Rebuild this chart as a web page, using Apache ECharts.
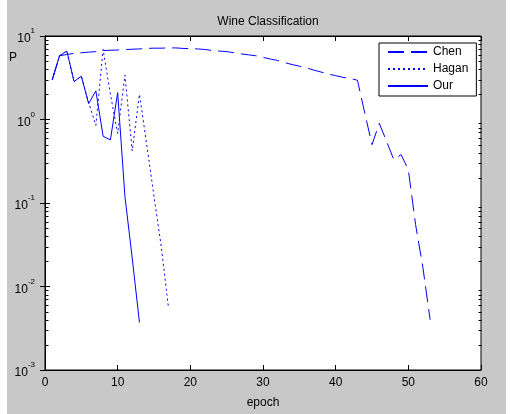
<!DOCTYPE html>
<html>
<head>
<meta charset="utf-8">
<script src="https://cdn.jsdelivr.net/npm/echarts@6/dist/echarts.min.js"></script>
<style>
html,body{margin:0;padding:0;background:#ffffff;}
#bg{position:absolute;left:7px;top:0;width:499px;height:414px;background:#c8c8c8;}
#chart{position:absolute;left:0;top:0;width:514px;height:414px;}
</style>
</head>
<body>
<div id="bg"></div>
<div id="chart"></div>
<script>
// ---- data ----
const chartTitle = 'Wine Classification';
const xLabel = 'epoch';
const yLabel = 'P';
const seriesNames = ['Chen', 'Hagan', 'Our'];

const chenEpochs = [1,2,3,4,5,6,7,8,9,10,11,12,13,14,15,16,17,18,19,20,21,22,23,24,25,26,27,28,29,30,31,32,33,34,35,36,37,38,39,40,41,42,43,44,45,46,47,48,49,50,51,52,53];
const chenValues = [3.0,5.8,6.0,6.2,6.3,6.4,6.5,6.7,6.75,6.8,6.85,6.95,7.0,7.1,7.15,7.15,7.2,7.2,7.1,7.05,7.0,6.9,6.7,6.6,6.5,6.3,6.1,5.95,5.8,5.55,5.3,5.1,4.8,4.55,4.35,4.15,3.9,3.7,3.5,3.35,3.2,3.1,2.95,1.2,0.5,0.9,0.55,0.33,0.38,0.25,0.055,0.017,0.004];

const haganEpochs = [1,2,3,4,5,6,7,8,9,10,11,12,13,14,15,16,17];
const haganValues = [3.0,5.8,6.6,2.85,3.3,1.6,0.85,6.9,2.0,0.68,3.4,0.42,2.0,0.5,0.12,0.03,0.0055];

const ourEpochs = [1,2,3,4,5,6,7,8,9,10,11,12,13];
const ourValues = [3.0,5.8,6.6,2.85,3.3,1.55,2.2,0.63,0.57,2.1,0.12,0.022,0.0037];

const xTicks = [0,10,20,30,40,50,60];
const yMin = 0.001, yMax = 10;
const minorTickValues = [
  0.002,0.003,0.004,0.005,0.006,0.007,0.008,0.009,
  0.02,0.03,0.04,0.05,0.06,0.07,0.08,0.09,
  0.2,0.3,0.4,0.5,0.6,0.7,0.8,0.9,
  2,3,4,5,6,7,8,9
];

// ---- chart ----
const FONT = '"Liberation Sans", Arial, sans-serif';
const pairs = (xs, ys) => xs.map((x, i) => [x, ys[i]]);
const blue = '#0000ff';

const chart = echarts.init(document.getElementById('chart'), null, {renderer: 'canvas'});

const logLabel = v => {
  const e = Math.round(Math.log10(v));
  return '{b|10}{s|' + e + '}';
};

const option = {
  backgroundColor: 'transparent',
  animation: false,
  textStyle: {fontFamily: FONT},
  title: {
    text: chartTitle,
    left: 263, top: 11, textAlign: 'center',
    textStyle: {fontFamily: FONT, fontSize: 12, fontWeight: 'normal', color: '#000'}
  },
  legend: {
    data: seriesNames,
    orient: 'vertical',
    left: 379, top: 43,
    padding: [3, 8, 4, 8],
    itemWidth: 40, itemHeight: 14, itemGap: 5,
    backgroundColor: '#fff',
    borderColor: '#000', borderWidth: 1, borderRadius: 0,
    textStyle: {fontFamily: FONT, fontSize: 12, color: '#000'},
    itemStyle: {opacity: 0},
    selectedMode: false
  },
  grid: {
    left: 45, top: 36, width: 436, height: 342,
    show: true, backgroundColor: '#fff', borderColor: '#000', borderWidth: 1
  },
  xAxis: [{
    type: 'value', min: xTicks[0], max: xTicks[xTicks.length - 1], interval: 10,
    position: 'bottom',
    axisLine: {show: true, lineStyle: {color: '#000', width: 1}},
    axisTick: {show: true, inside: true, length: 5, lineStyle: {color: '#000'}},
    axisLabel: {show: true, color: '#000', fontSize: 12, fontFamily: FONT, margin: 7},
    splitLine: {show: false},
    name: xLabel, nameLocation: 'middle', nameGap: 27,
    nameTextStyle: {color: '#000', fontSize: 12, fontFamily: FONT}
  }, {
    type: 'value', min: xTicks[0], max: xTicks[xTicks.length - 1], interval: 10,
    position: 'top',
    axisLine: {show: true, lineStyle: {color: '#000', width: 1}},
    axisTick: {show: true, inside: true, length: 5, lineStyle: {color: '#000'}},
    axisLabel: {show: false},
    splitLine: {show: false}
  }],
  yAxis: [{
    type: 'log', logBase: 10, min: yMin, max: yMax,
    position: 'left',
    axisLine: {show: true, lineStyle: {color: '#000', width: 1}},
    axisTick: {show: true, inside: true, length: 5, lineStyle: {color: '#000'}},
    axisLabel: {
      show: true, margin: 10, formatter: logLabel,
      rich: {
        b: {fontSize: 12, fontFamily: FONT, color: '#000', lineHeight: 18, verticalAlign: 'bottom'},
        s: {fontSize: 8, fontFamily: FONT, color: '#000', lineHeight: 8, verticalAlign: 'top'}
      }
    },
    splitLine: {show: false}
  }, {
    type: 'log', logBase: 10, min: yMin, max: yMax,
    position: 'right',
    axisLine: {show: true, lineStyle: {color: '#000', width: 1}},
    axisTick: {show: true, inside: true, length: 5, lineStyle: {color: '#000'}},
    axisLabel: {show: false},
    splitLine: {show: false}
  }],
  graphic: [{
    type: 'text', left: 9, top: 52,
    style: {text: yLabel, fontFamily: FONT, fontSize: 12, fill: '#000'}
  }],
  series: [{
    name: 'minorTicks', type: 'custom', xAxisIndex: 0, yAxisIndex: 0,
    silent: true, clip: false,
    data: minorTickValues.map(v => [xTicks[0], v]),
    renderItem: (params, api) => {
      const v = api.value(1);
      const l = api.coord([xTicks[0], v]);
      const r = api.coord([xTicks[xTicks.length - 1], v]);
      const y = Math.round(l[1]) + 0.5;
      const xl = Math.round(l[0]) + 0.5, xr = Math.round(r[0]) + 0.5;
      return {type: 'group', children: [
        {type: 'line', shape: {x1: xl, y1: y, x2: xl + 3, y2: y}, style: {stroke: '#000', lineWidth: 1}},
        {type: 'line', shape: {x1: xr, y1: y, x2: xr - 3, y2: y}, style: {stroke: '#000', lineWidth: 1}}
      ]};
    }
  }, {
    name: 'Chen', type: 'line', data: pairs(chenEpochs, chenValues),
    symbol: 'none', showSymbol: false, z: 5,
    itemStyle: {color: blue},
    lineStyle: {color: blue, width: 1, type: [16, 7]}
  }, {
    name: 'Hagan', type: 'line', data: pairs(haganEpochs, haganValues),
    symbol: 'none', showSymbol: false, z: 5,
    itemStyle: {color: blue},
    lineStyle: {color: blue, width: 1, type: [2, 3]}
  }, {
    name: 'Our', type: 'line', data: pairs(ourEpochs, ourValues),
    symbol: 'none', showSymbol: false, z: 6,
    itemStyle: {color: blue},
    lineStyle: {color: blue, width: 1, type: 'solid'}
  }]
};
chart.setOption(option);
</script>
</body>
</html>
